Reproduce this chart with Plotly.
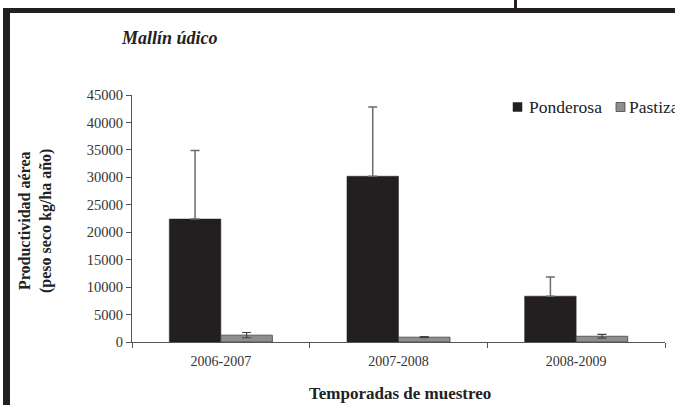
import plotly.graph_objects as go

categories = ["2006-2007", "2007-2008", "2008-2009"]
ponderosa = [22400, 30200, 8350]
ponderosa_err = [12500, 12600, 3500]
pastizal = [1250, 880, 1050]
pastizal_err = [480, 100, 330]
series_names = ["Ponderosa", "Pastizal"]
y_ticks = [0, 5000, 10000, 15000, 20000, 25000, 30000, 35000, 40000, 45000]

DARK = "#231f20"
GRAY = "#8e8e8e"
ERR = "#6b6b6b"
FONT = "Liberation Serif"

fig = go.Figure()
fig.add_trace(go.Bar(
    x=categories, y=ponderosa, name=series_names[0],
    marker=dict(color=DARK, line=dict(color=DARK, width=0.5)),
    error_y=dict(type="data", array=ponderosa_err, arrayminus=[0, 0, 0],
                 symmetric=False, color=ERR, thickness=1.5, width=4.5),
))
fig.add_trace(go.Bar(
    x=categories, y=pastizal, name=series_names[1],
    marker=dict(color=GRAY, line=dict(color="#444444", width=0.8)),
    error_y=dict(type="data", array=pastizal_err, symmetric=True,
                 color="#444444", thickness=1.2, width=4.5),
))

L, R, T, B = 132, 10, 95, 63
W, H = 675, 405
pw = W - L - R
ph = H - T - B


def px(x):
    return (x - L) / pw


def py(y):
    return (H - B - y) / ph


shapes = [
    # frame from the original page
    dict(type="rect", xref="paper", yref="paper", x0=px(3), x1=px(10), y0=py(420), y1=py(8),
         fillcolor=DARK, line=dict(width=0), layer="above"),
    dict(type="rect", xref="paper", yref="paper", x0=px(3), x1=px(690), y0=py(13), y1=py(8),
         fillcolor=DARK, line=dict(width=0), layer="above"),
    dict(type="rect", xref="paper", yref="paper", x0=px(514), x1=px(517), y0=py(10), y1=py(-5),
         fillcolor=DARK, line=dict(width=0), layer="above"),
    # legend swatches
    dict(type="rect", xref="paper", yref="paper", x0=px(513), x1=px(522), y0=py(111.5), y1=py(102.5),
         fillcolor=DARK, line=dict(color=DARK, width=0.5)),
    dict(type="rect", xref="paper", yref="paper", x0=px(616), x1=px(625), y0=py(111.5), y1=py(102.5),
         fillcolor=GRAY, line=dict(color="#444444", width=0.8)),
]

annotations = [
    dict(text="<b><i>Mallín údico</i></b>", xref="paper", yref="paper", x=px(119), y=py(38),
         xanchor="left", yanchor="middle", showarrow=False,
         font=dict(family=FONT, size=18, color="#222222")),
    dict(text="<b>Productividad aérea<br>(peso seco kg/ha año)</b>", xref="paper", yref="paper",
         x=px(35), y=py(221), xanchor="center", yanchor="middle", textangle=-90, showarrow=False,
         font=dict(family=FONT, size=16, color="#222222")),
    dict(text="<b>Temporadas de muestreo</b>", xref="paper", yref="paper", x=px(400), y=py(393),
         xanchor="center", yanchor="middle", showarrow=False,
         font=dict(family=FONT, size=17, color="#222222")),
    dict(text=series_names[0], xref="paper", yref="paper", x=px(527), y=py(107),
         xanchor="left", yanchor="middle", showarrow=False,
         font=dict(family=FONT, size=17.5, color="#222222")),
    dict(text=series_names[1], xref="paper", yref="paper", x=px(627), y=py(107),
         xanchor="left", yanchor="middle", showarrow=False,
         font=dict(family=FONT, size=17.5, color="#222222")),
]

fig.update_layout(
    width=W, height=H,
    margin=dict(l=L, r=R, t=T, b=B, pad=0, autoexpand=False),
    paper_bgcolor="white", plot_bgcolor="white",
    barmode="group", bargap=0.42, bargroupgap=0,
    showlegend=False,
    shapes=shapes, annotations=annotations,
    font=dict(family=FONT, size=14, color="#333333"),
    xaxis=dict(
        type="category", range=[-0.5, 2.5], showline=True, linecolor="#555555", linewidth=1,
        ticks="outside", tickson="boundaries", ticklen=5, tickcolor="#555555",
        showgrid=False, zeroline=False, tickfont=dict(family=FONT, size=14, color="#333333"),
        ticklabelstandoff=6,
    ),
    yaxis=dict(
        range=[0, 45000], tickvals=y_ticks, ticktext=[str(v) for v in y_ticks],
        showline=True, linecolor="#555555", linewidth=1,
        ticks="outside", ticklen=5, tickcolor="#555555",
        showgrid=False, zeroline=False, tickfont=dict(family=FONT, size=14.5, color="#333333"),
    ),
)

fig.write_html(
    "out.html",
    config={"displayModeBar": False},
    post_script="document.body.style.margin='0px';document.body.style.overflow='hidden';",
)
